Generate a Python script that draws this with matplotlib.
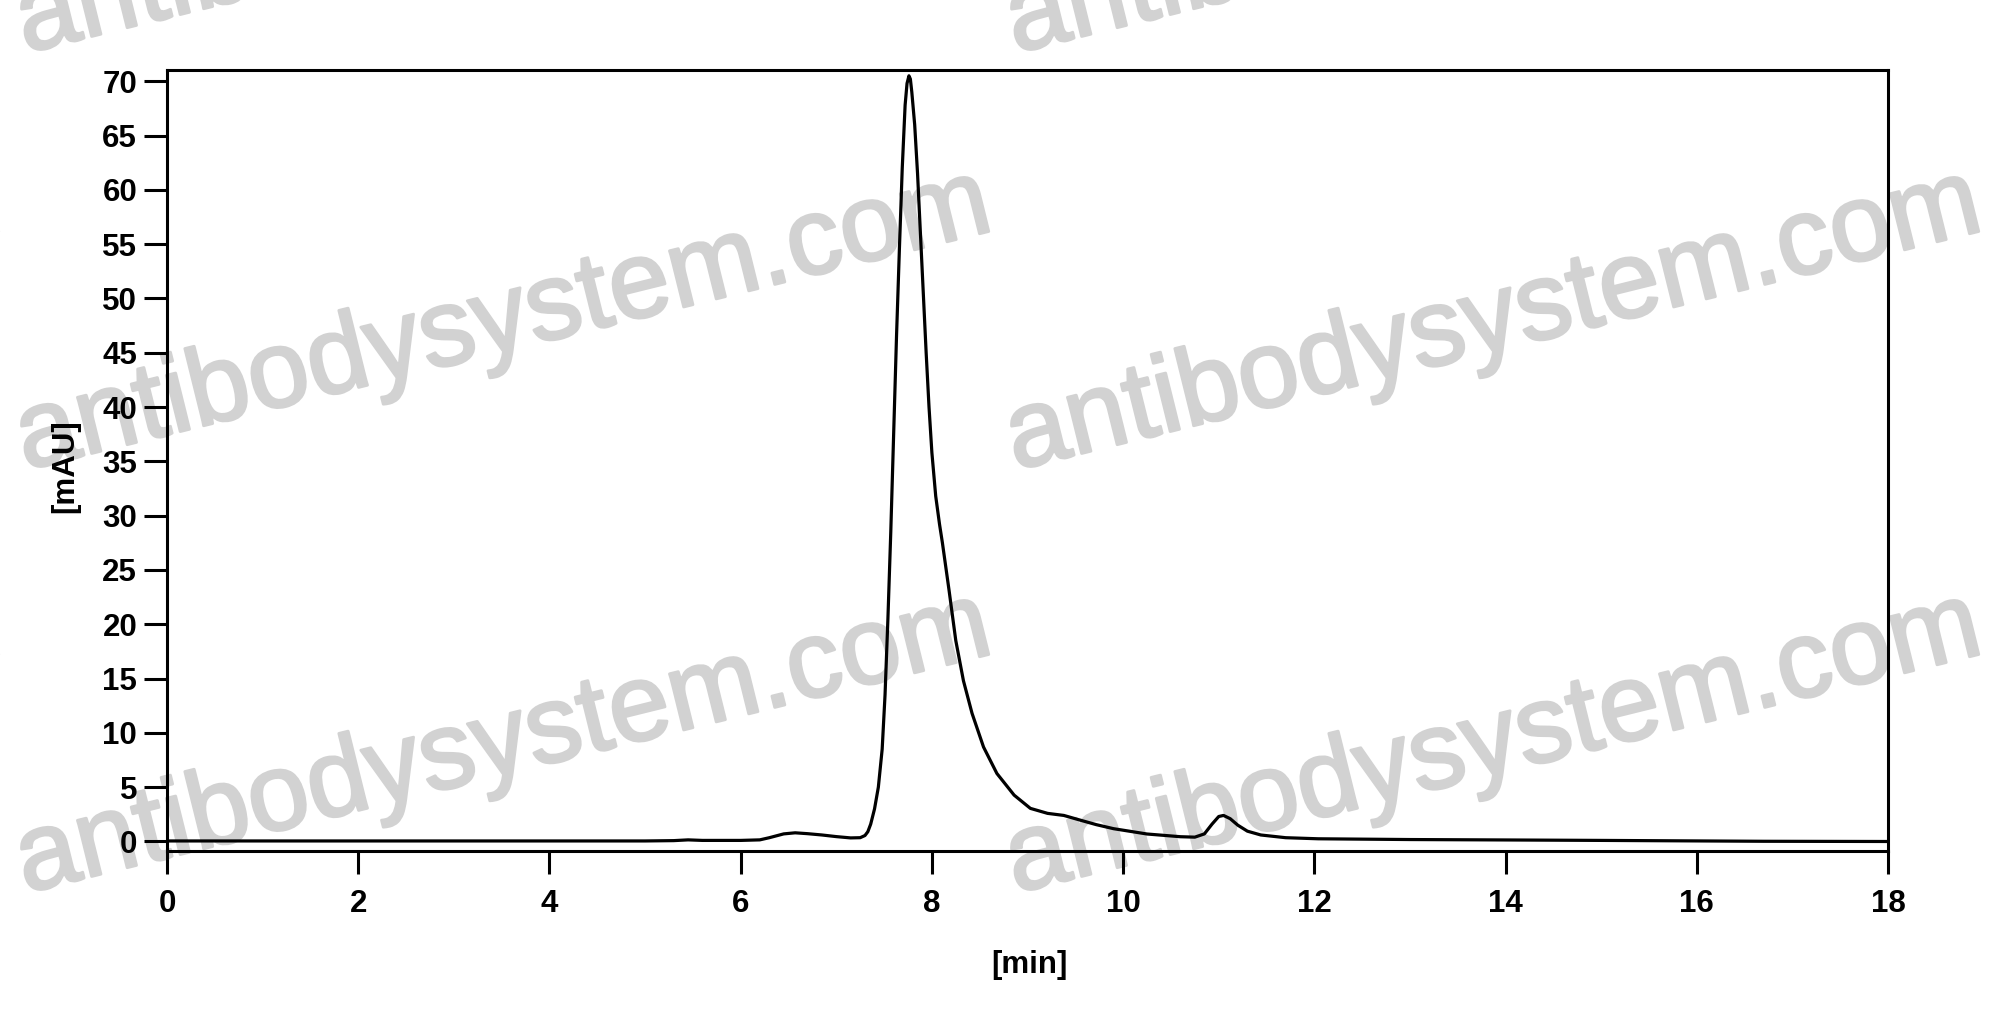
import matplotlib
matplotlib.use("Agg")
import matplotlib.pyplot as plt
import matplotlib.patheffects as pe

# Chromatogram trace (retention time in min, absorbance in mAU)
time_min = [0.0, 1.0, 2.0, 3.0, 4.0, 5.0, 5.3, 5.45, 5.6, 6.0, 6.2, 6.3, 6.45, 6.57,
            6.7, 6.85, 7.0, 7.15, 7.25, 7.30, 7.33, 7.36, 7.40, 7.44, 7.48, 7.51,
            7.54, 7.57, 7.60, 7.63, 7.66, 7.69, 7.72, 7.74, 7.76, 7.775, 7.79, 7.82,
            7.85, 7.88, 7.91, 7.94, 7.97, 8.00, 8.04, 8.08, 8.11, 8.18,
            8.25, 8.33, 8.42, 8.54, 8.68, 8.86, 9.03, 9.21, 9.38, 9.55, 9.72, 9.90,
            10.25, 10.60, 10.75, 10.85, 10.93, 11.0, 11.05, 11.12, 11.2, 11.3, 11.44,
            11.7, 12.04, 13.0, 14.04, 15.0, 16.7, 18.0]
signal_mau = [0.05, 0.05, 0.05, 0.05, 0.05, 0.05, 0.08, 0.15, 0.1, 0.1, 0.15, 0.35, 0.7, 0.8,
              0.72, 0.6, 0.45, 0.33, 0.35, 0.55, 0.9, 1.6, 3.0, 5.0, 8.5, 13.5,
              20.5, 28.5, 37.5, 46.5, 54.5, 62.0, 67.8, 69.8, 70.5, 70.2, 69.0, 66.0,
              61.5, 56.0, 50.5, 45.0, 40.0, 35.8, 31.8, 29.2, 27.5, 23.1,
              18.5, 14.8, 11.8, 8.7, 6.26, 4.27, 3.05, 2.59, 2.4, 1.97, 1.55, 1.18,
              0.69, 0.44, 0.4, 0.7, 1.6, 2.3, 2.4, 2.1, 1.5, 0.95, 0.6,
              0.35, 0.25, 0.18, 0.14, 0.1, 0.02, 0.0]

x_ticks = [0, 2, 4, 6, 8, 10, 12, 14, 16, 18]
y_ticks = [0, 5, 10, 15, 20, 25, 30, 35, 40, 45, 50, 55, 60, 65, 70]
x_label = "[min]"
y_label = "[mAU]"
watermark = "antibodysystem.com"

W, H = 1999, 1019
fig = plt.figure(figsize=(W / 100, H / 100), dpi=100)
fig.patch.set_facecolor("white")

# watermark tiles (pixel positions of baseline start)
wm_x = [-965, 25, 1015]
wm_y = [53, 470, 893, 1313]
wm_col = "#d2d2d2"
for yy in wm_y:
    for xx in wm_x:
        fig.text(xx / W, 1 - yy / H, watermark, fontsize=79, family="Liberation Sans",
                 color=wm_col, rotation=13.9, rotation_mode="anchor",
                 ha="left", va="baseline", zorder=-5,
                 path_effects=[pe.withStroke(linewidth=2.0, foreground=wm_col)])

ax = fig.add_axes([167 / W, 1 - 851 / H, (1888 - 167) / W, (851 - 69.5) / H])
ax.set_facecolor("none")
ax.plot(time_min, signal_mau, color="black", lw=2.3, solid_joinstyle="round")

ax.set_xlim(0, 18)
ax.set_ylim(-0.875, 71.08)
ax.set_xticks(x_ticks)
ax.set_yticks(y_ticks)
for s in ax.spines.values():
    s.set_linewidth(2.2)
ax.tick_params(direction="out", length=16.5, width=2.2, labelsize=22.5)
ax.tick_params(axis="x", pad=11)
ax.tick_params(axis="y", pad=5)
for lab in ax.get_xticklabels() + ax.get_yticklabels():
    lab.set_fontfamily("Liberation Sans")
    lab.set_fontweight("bold")

ax.set_xlabel(x_label, fontsize=22.5, fontweight="bold", family="Liberation Sans")
ax.set_ylabel(y_label, fontsize=22.5, fontweight="bold", family="Liberation Sans")
ax.xaxis.label.set_va("center")
ax.yaxis.label.set_va("center")
ax.xaxis.set_label_coords(0.501, -0.146)
ax.yaxis.set_label_coords(-0.0589, 0.492)

fig.savefig("out.png", dpi=100, facecolor="white")
